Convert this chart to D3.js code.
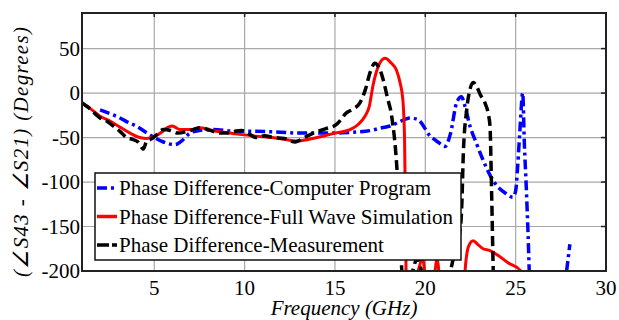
<!DOCTYPE html>
<html>
<head>
<meta charset="utf-8">
<script src="https://cdn.jsdelivr.net/npm/d3@7"></script>
<style>
body { margin: 0; background: #fff; }
</style>
</head>
<body>
<div class="chart"></div>
<script>
// computer program (blue dash-dot); null = gap
var freqProgram  = [2.0, 3.0, 3.66, 4.0, 4.6, 5.0, 5.5, 6.15, 6.5, 6.98, 7.5, 8.25, 9.5, 10.5, 12, 13, 14, 15, 16, 17, 17.6, 18.05, 18.5, 19.15, 19.6, 20.26, 20.7, 21.09, 21.4, 21.73, 22.0, 22.2, 22.47, 22.8, 23.19, 23.6, 23.95, 24.4, 24.85, 25.0, 25.1, 25.18, 25.25, 25.39, 25.48, 25.6, 25.75, 25.8, 27.0, 27.82, 28.0];
var phaseProgram = [-19, -27, -34, -37, -45, -50, -55, -58, -54, -45, -42, -41, -43, -43, -44, -45, -45, -45, -44, -42, -39, -37, -33, -28, -30, -48, -55, -60, -45, -11, -4, -15, -37, -55, -75, -93, -104, -112, -117, -110, -86, -60, -37, 0, -56, -112, -200, -240, null, -200, -170];

// full wave simulation (red)
var freqSim  = [1.0, 1.5, 2.0, 2.5, 3.0, 3.66, 4.2, 4.6, 5.1, 5.4, 5.7, 6.0, 6.42, 7.0, 7.53, 8.4, 9.19, 10.0, 10.67, 11.5, 12.2, 12.8, 14.0, 15.0, 15.83, 16.3, 16.66, 16.9, 17.1, 17.4, 17.77, 18.1, 18.4, 18.6, 18.76, 18.85, 18.9, 18.95, 19.1, 19.6, 19.85, 20.1, 20.4, 20.65, 20.9, 21.5, 22.1, 22.2, 22.4, 22.65, 22.9, 23.2, 23.58, 24.13, 24.6, 25.24, 25.4];
var phaseSim = [-11, -18, -26, -31, -37, -45, -50, -51, -48, -44, -39, -37, -41, -41, -39, -43, -45, -47, -48.5, -50, -52, -54, -50, -45, -41, -35, -26, -15, 8, 30, 39, 34, 26, 12, -8, -50, -130, -220, -240, -200, -186, -220, -220, -187, -230, -250, -250, -200, -172, -166, -170, -175, -177, -184, -191, -199, -205];

// measurement (black dashed)
var freqMeas  = [1.0, 1.4, 2.0, 2.4, 2.73, 3.1, 3.47, 3.8, 4.1, 4.3, 4.39, 4.58, 4.8, 5.04, 5.5, 5.9, 6.3, 7.0, 7.53, 8.1, 8.64, 9.0, 9.84, 10.67, 11.1, 11.6, 12.2, 12.8, 13.3, 13.8, 14.5, 15.1, 15.65, 16.0, 16.38, 16.7, 16.94, 17.21, 17.45, 17.67, 17.9, 18.14, 18.42, 18.6, 18.75, 19.0, 19.3, 19.55, 19.85, 20.2, 20.8, 21.25, 21.45, 21.7, 21.95, 22.03, 22.1, 22.29, 22.47, 22.65, 22.85, 23.05, 23.3, 23.5, 23.58, 23.67, 23.76, 23.82];
var phaseMeas = [-11, -17, -28, -32, -37, -43, -50, -52, -55, -61, -63, -54, -52, -48.5, -41, -42, -45, -42, -39, -42, -45, -45, -42, -50, -48, -50, -51, -55, -50, -45, -40, -35, -22, -18, -11, 5, 23, 33.5, 28, 15, -5, -26, -82, -150, -215, -225, -200, -186, -205, -235, -240, -215, -195, -172, -150, -120, -70, -19, 4, 12, 7, -2, -11, -25, -37, -112, -200, -240];

var xTicks = [5, 10, 15, 20, 25, 30];
var yTicks = [50, 0, -50, -100, -150, -200];
var legendLabels = ['Phase Difference-Computer Program', 'Phase Difference-Full Wave Simulation', 'Phase Difference-Measurement'];

var W = 619, H = 320;
var plotLeft = 82, plotRight = 606, plotTop = 13, plotBottom = 271;
var serif = 'Liberation Serif';

var svg = d3.select('.chart')
            .append('svg')
            .attr('width', W)
            .attr('height', H)
            .attr('font-family', serif);

var x = d3.scaleLinear().domain([1, 30]).range([plotLeft, plotRight]);
var y = d3.scaleLinear().domain([-200, 90]).range([plotBottom, plotTop]);

// grid
svg.append('g').selectAll('line')
   .data(xTicks.filter(function(d) { return d < 30; }))
   .enter().append('line')
   .attr('x1', function(d) { return x(d); }).attr('x2', function(d) { return x(d); })
   .attr('y1', plotTop).attr('y2', plotBottom)
   .attr('stroke', '#a8a8a8').attr('stroke-width', 1.2);

svg.append('g').selectAll('line')
   .data(yTicks.filter(function(d) { return d > -200; }))
   .enter().append('line')
   .attr('x1', plotLeft).attr('x2', plotRight)
   .attr('y1', function(d) { return y(d); }).attr('y2', function(d) { return y(d); })
   .attr('stroke', '#a8a8a8').attr('stroke-width', 1.2);

// inward ticks on top and right
svg.append('g').selectAll('line')
   .data(xTicks)
   .enter().append('line')
   .attr('x1', function(d) { return x(d); }).attr('x2', function(d) { return x(d); })
   .attr('y1', plotTop).attr('y2', plotTop + 4)
   .attr('stroke', '#222').attr('stroke-width', 1.5);

svg.append('g').selectAll('line')
   .data(yTicks)
   .enter().append('line')
   .attr('x1', plotRight - 5).attr('x2', plotRight)
   .attr('y1', function(d) { return y(d); }).attr('y2', function(d) { return y(d); })
   .attr('stroke', '#222').attr('stroke-width', 1.5);

// curves
svg.append('clipPath').attr('id', 'plot-clip')
   .append('rect')
   .attr('x', plotLeft).attr('y', plotTop)
   .attr('width', plotRight - plotLeft).attr('height', plotBottom - plotTop);

function drawCurve(fs, vs, color, width, dash) {
    var pts = fs.map(function(f, i) { return [f, vs[i]]; });
    var line = d3.line()
                 .defined(function(d) { return d[1] !== null; })
                 .x(function(d) { return x(d[0]); })
                 .y(function(d) { return y(d[1]); })
                 .curve(d3.curveMonotoneX);
    svg.append('path')
       .attr('d', line(pts))
       .attr('clip-path', 'url(#plot-clip)')
       .attr('fill', 'none')
       .attr('stroke', color)
       .attr('stroke-width', width)
       .attr('stroke-dasharray', dash)
       .attr('stroke-linejoin', 'round');
}

drawCurve(freqProgram, phaseProgram, '#0000ff', 3.5, '10,4,3,4');
drawCurve(freqSim, phaseSim, '#ff0000', 3, null);
drawCurve(freqMeas, phaseMeas, '#000000', 3.5, '10,5');

// frame
svg.append('rect')
   .attr('x', plotLeft).attr('y', plotTop)
   .attr('width', plotRight - plotLeft).attr('height', plotBottom - plotTop)
   .attr('fill', 'none')
   .attr('stroke', '#222')
   .attr('stroke-width', 2);

// tick labels
svg.append('g').selectAll('text')
   .data(xTicks)
   .enter().append('text')
   .attr('x', function(d) { return x(d); })
   .attr('y', 295)
   .attr('text-anchor', 'middle')
   .attr('font-size', 21)
   .text(function(d) { return String(d); });

svg.append('g').selectAll('text')
   .data(yTicks)
   .enter().append('text')
   .attr('x', plotLeft - 2)
   .attr('y', function(d) { return y(d) + 7; })
   .attr('text-anchor', 'end')
   .attr('font-size', 21)
   .text(function(d) { return String(d); });

// axis titles
svg.append('text')
   .attr('x', (plotLeft + plotRight) / 2)
   .attr('y', 315)
   .attr('text-anchor', 'middle')
   .attr('font-size', 21)
   .attr('font-style', 'italic')
   .text('Frequency (GHz)');

svg.append('text')
   .attr('transform', 'translate(28,152) rotate(-90)')
   .attr('text-anchor', 'middle')
   .attr('font-size', 21)
   .attr('font-style', 'italic')
   .attr('textLength', 250)
   .attr('lengthAdjust', 'spacing')
   .text('(\u2220S43 - \u2220S21) (Degrees)');

// legend
var legendColors = ['#0000ff', '#ff0000', '#000000'];
var legendDash = ['10,4,3,4', null, '12,3'];
var legend = svg.append('g');
legend.append('rect')
      .attr('x', 95).attr('y', 173)
      .attr('width', 366).attr('height', 87)
      .attr('fill', '#fff')
      .attr('stroke', '#111')
      .attr('stroke-width', 1.5);

legendLabels.forEach(function(label, i) {
    var ly = 188 + i * 28.5;
    legend.append('line')
          .attr('x1', 97).attr('x2', 117)
          .attr('y1', ly).attr('y2', ly)
          .attr('stroke', legendColors[i])
          .attr('stroke-width', 3.5)
          .attr('stroke-dasharray', legendDash[i]);
    legend.append('text')
          .attr('x', 119).attr('y', ly + 7)
          .attr('font-size', 21)
          .text(label);
});
</script>
</body>
</html>
